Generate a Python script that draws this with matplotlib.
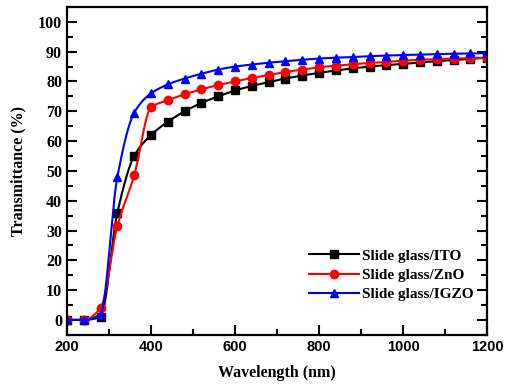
import numpy as np
import matplotlib
matplotlib.use("Agg")
import matplotlib.pyplot as plt
from matplotlib.ticker import MultipleLocator

wavelength = [200, 240, 280, 320, 360, 400, 440, 480, 520, 560, 600, 640, 680,
              720, 760, 800, 840, 880, 920, 960, 1000, 1040, 1080, 1120, 1160, 1200]
ito = [0, 0, 1, 36, 55, 62, 66.5, 70, 72.8, 75, 77, 78.5, 79.8, 81, 82, 82.9,
       83.7, 84.4, 85, 85.5, 85.9, 86.4, 86.8, 87.2, 87.6, 88]
zno = [0, 0, 4, 31.5, 48.5, 71.3, 73.7, 75.7, 77.4, 78.8, 80, 81.2, 82.2, 83.2,
       84, 84.8, 85.3, 85.8, 86.2, 86.6, 87, 87.3, 87.5, 87.7, 87.8, 88]
igzo = [0, 0, 2, 48, 69.5, 76, 79, 81, 82.6, 84, 85, 85.7, 86.3, 86.8, 87.3,
        87.7, 88, 88.2, 88.5, 88.7, 88.9, 89, 89.2, 89.3, 89.4, 89.5]
labels = ["Slide glass/ITO", "Slide glass/ZnO", "Slide glass/IGZO"]
colors = ["black", "red", "blue"]
markers = ["s", "o", "^"]


def pchip(x, y, xs):
    x = np.asarray(x, float); y = np.asarray(y, float)
    h = np.diff(x); d = np.diff(y) / h
    n = len(x); m = np.zeros(n)
    for k in range(1, n - 1):
        if d[k - 1] * d[k] > 0:
            w1 = 2 * h[k] + h[k - 1]; w2 = h[k] + 2 * h[k - 1]
            m[k] = (w1 + w2) / (w1 / d[k - 1] + w2 / d[k])
    m[0] = d[0]; m[-1] = d[-1]
    idx = np.clip(np.searchsorted(x, xs) - 1, 0, n - 2)
    t = (xs - x[idx]) / h[idx]
    h00 = 2 * t**3 - 3 * t**2 + 1; h10 = t**3 - 2 * t**2 + t
    h01 = -2 * t**3 + 3 * t**2; h11 = t**3 - t**2
    return h00 * y[idx] + h10 * h[idx] * m[idx] + h01 * y[idx + 1] + h11 * h[idx] * m[idx + 1]


fig = plt.figure(figsize=(5.07, 3.88), dpi=100)
ax = fig.add_axes([0.132, 0.137, 0.829, 0.845])

xs = np.linspace(200, 1200, 1001)
for ys, lab, c, mk in zip([ito, zno, igzo], labels, colors, markers):
    ax.plot(xs, pchip(wavelength, ys, xs), color=c, lw=1.5)
    ax.plot(wavelength, ys, linestyle="none", marker=mk, color=c, ms=6)
    ax.plot([], [], color=c, lw=1.5, marker=mk, ms=6, label=lab)

ax.set_xlim(200, 1200)
ax.set_ylim(-5, 105)
ax.xaxis.set_major_locator(MultipleLocator(200))
ax.xaxis.set_minor_locator(MultipleLocator(100))
ax.yaxis.set_major_locator(MultipleLocator(10))
ax.yaxis.set_minor_locator(MultipleLocator(5))
ax.set_yticks(range(0, 101, 10))
ax.tick_params(which="both", direction="in", top=False, right=True, width=1.5)
ax.tick_params(which="major", length=7)
ax.tick_params(which="minor", length=4)
for s in ax.spines.values():
    s.set_linewidth(1.6)

for t in ax.get_yticklabels():
    t.set_fontfamily("Liberation Serif"); t.set_fontweight("bold"); t.set_fontsize(11.5)
for t in ax.get_xticklabels():
    t.set_fontfamily("Liberation Sans"); t.set_fontweight("bold"); t.set_fontsize(10.5)

ax.set_xlabel("Wavelength (nm)", fontfamily="Liberation Serif", fontweight="bold", fontsize=11.5, labelpad=8)
ax.set_ylabel("Transmittance (%)", fontfamily="Liberation Serif", fontweight="bold", fontsize=11.5, labelpad=8)

leg = ax.legend(loc="lower left", bbox_to_anchor=(0.575, 0.103), frameon=False,
                prop={"family": "Liberation Serif", "weight": "bold", "size": 11},
                handlelength=3.3, handletextpad=0.2, labelspacing=0.36,
                borderpad=0, borderaxespad=0)

fig.savefig("out.png", dpi=100)
